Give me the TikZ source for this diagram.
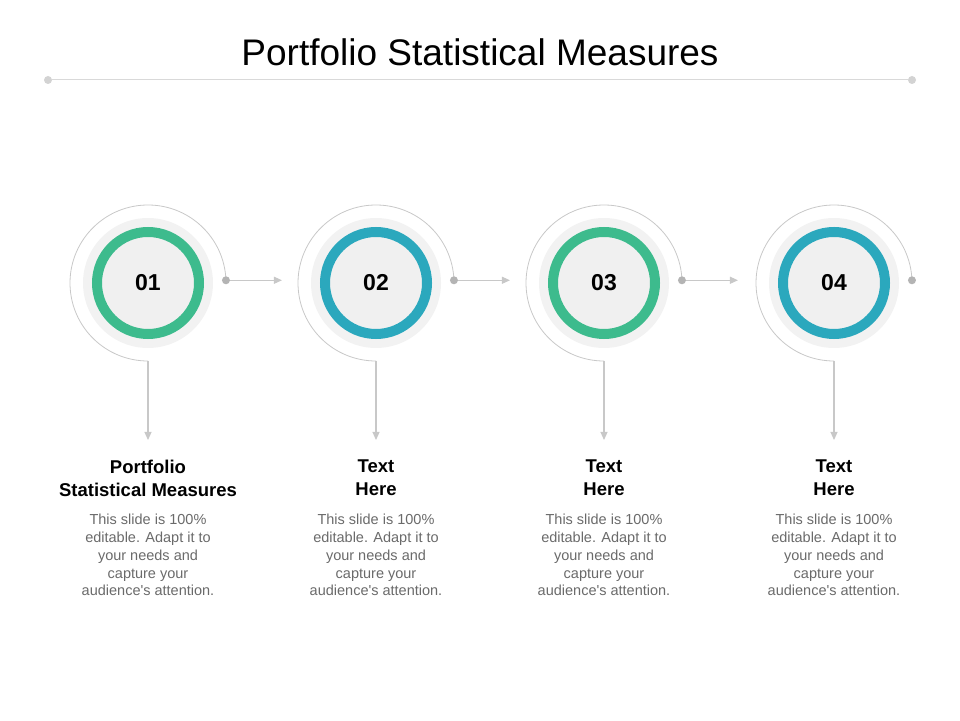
\documentclass[tikz,border=0pt]{standalone}
\usepackage{fontspec}
\setmainfont{Liberation Sans}[Ligatures=TeXOff]
\usetikzlibrary{arrows.meta,calc}
\definecolor{cgreen}{HTML}{3DBB8D}
\definecolor{cteal}{HTML}{2BA8BD}
\definecolor{lgray}{HTML}{C8C8C8}
\definecolor{halo}{HTML}{F2F2F2}
\definecolor{inner}{HTML}{F0F0F0}
\definecolor{bodygray}{HTML}{6A6A6A}
\tikzset{
  halodisc/.style={circle,fill=halo,minimum size=130pt,inner sep=0pt},
  ringnode/.style={circle,draw=#1,line width=10pt,fill=inner,minimum size=102pt,inner sep=0pt,
     font=\fontsize{23}{23}\selectfont\bfseries},
  thin/.style={draw=lgray,line width=0.8pt},
  conn/.style={draw=lgray,line width=1.1pt,-{Triangle[length=8pt,width=7pt]}},
  dotstyle/.style={circle,fill=lgray!90!black,inner sep=0pt,minimum size=8pt},
  heading/.style={anchor=north,align=center,inner sep=0pt,font=\fontsize{18.5}{23}\selectfont\bfseries},
  bodytext/.style={anchor=north,align=center,inner sep=0pt,text=bodygray,font=\fontsize{14.5}{17.8}\selectfont}
}
\begin{document}
\begin{tikzpicture}[x=1pt,y=1pt]
\useasboundingbox (0,0) rectangle (960,720);
% title
\node[font=\fontsize{37}{37}\selectfont] (title) at (480,668) {Portfolio Statistical Measures};
\node[dotstyle,fill=lgray!80] (tl) at (48,640) {};
\node[dotstyle,fill=lgray!80] (tr) at (912,640) {};
\draw[draw=lgray!70,line width=1pt] (tl) -- (tr);
% steps
\foreach \i/\x/\col/\num in {1/148/cgreen/01,2/376/cteal/02,3/604/cgreen/03,4/834/cteal/04}{
  \node[halodisc] (h\i) at (\x,437) {};
  \node[ringnode=\col] (c\i) at (h\i) {\num};
  \coordinate (d\i) at ($(h\i)+(2:78)$);
  \draw[thin] (d\i) arc[start angle=2,end angle=270,radius=78] coordinate (b\i);
  \coordinate (a\i) at ($(b\i)+(0,-79)$);
  \draw[conn] (b\i) -- (a\i);
  \node[dotstyle] (p\i) at (d\i) {};
  \coordinate (e\i) at ($(p\i)+(56,0)$);
}
\foreach \i/\j in {1/2,2/3,3/4}{
  \draw[conn] (p\i) -- (e\i);
}
\node[heading] (t1) at (148,260) {Portfolio\\Statistical Measures};
\node[heading] (t2) at (376,260) {Text\\Here};
\node[heading] (t3) at (604,260) {Text\\Here};
\node[heading] (t4) at (834,260) {Text\\Here};
\foreach \i/\x in {1/148,2/376,3/604,4/834}{
  \node[bodytext] (s\i) at (\x,206) {This slide is 100\%\\editable. Adapt it to\\your needs and\\capture your\\audience's attention.};
}
\end{tikzpicture}
\end{document}
